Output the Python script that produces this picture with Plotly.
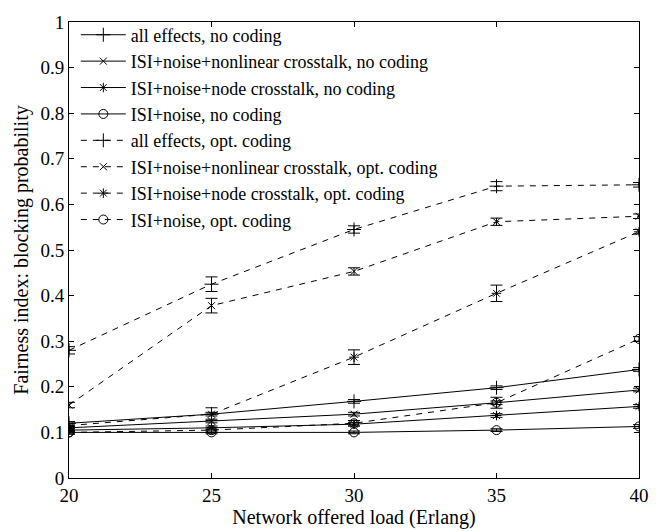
import plotly.graph_objects as go

load = [20, 25, 30, 35, 40]

names = [
    "all effects, no coding",
    "ISI+noise+nonlinear crosstalk, no coding",
    "ISI+noise+node crosstalk, no coding",
    "ISI+noise, no coding",
    "all effects, opt. coding",
    "ISI+noise+nonlinear crosstalk, opt. coding",
    "ISI+noise+node crosstalk, opt. coding",
    "ISI+noise, opt. coding",
]

all_no = [0.120, 0.140, 0.168, 0.198, 0.238]
nonlin_no = [0.110, 0.125, 0.140, 0.165, 0.193]
node_no = [0.105, 0.110, 0.118, 0.137, 0.157]
isi_no = [0.100, 0.100, 0.100, 0.105, 0.113]
all_opt = [0.280, 0.425, 0.545, 0.640, 0.643]
nonlin_opt = [0.160, 0.378, 0.453, 0.562, 0.574]
node_opt = [0.115, 0.140, 0.265, 0.405, 0.540]
isi_opt = [0.100, 0.105, 0.120, 0.165, 0.305]

err_all_no = [0.004, 0.004, 0.004, 0.004, 0.004]
err_nonlin_no = [0.003, 0.004, 0.004, 0.004, 0.004]
err_node_no = [0.003, 0.004, 0.004, 0.004, 0.004]
err_isi_no = [0.003, 0.003, 0.003, 0.003, 0.004]
err_all_opt = [0.008, 0.016, 0.008, 0.010, 0.005]
err_nonlin_opt = [0.006, 0.016, 0.008, 0.008, 0.005]
err_node_opt = [0.005, 0.014, 0.016, 0.018, 0.005]
err_isi_opt = [0.004, 0.005, 0.006, 0.012, 0.005]

series = [all_no, nonlin_no, node_no, isi_no, all_opt, nonlin_opt, node_opt, isi_opt]
errors = [err_all_no, err_nonlin_no, err_node_no, err_isi_no,
          err_all_opt, err_nonlin_opt, err_node_opt, err_isi_opt]
symbols = ["cross-thin-open", "x-thin-open", "asterisk-open", "circle-open"] * 2
dashes = ["solid"] * 4 + ["6px,6px"] * 4
sizes = [10, 7, 8, 9] * 2

fig = go.Figure()
for name, y, e, sym, d, s in zip(names, series, errors, symbols, dashes, sizes):
    fig.add_trace(go.Scatter(
        x=load, y=y, name=name, mode="lines+markers",
        line=dict(color="black", width=1, dash=d),
        marker=dict(symbol=sym, size=s, color="black", line=dict(color="black", width=1)),
        error_y=dict(type="data", array=e, visible=True, color="black", thickness=1, width=6),
    ))

font_family = "Liberation Serif, Times New Roman, serif"
fig.update_layout(
    width=672, height=532,
    margin=dict(l=69, r=33, t=14, b=52),
    paper_bgcolor="white", plot_bgcolor="white",
    font=dict(family=font_family, size=18, color="black"),
    showlegend=True,
    legend=dict(x=0.012, y=1.012, xanchor="left", yanchor="top",
                bgcolor="rgba(255,255,255,0)", borderwidth=0,
                font=dict(family=font_family, size=18, color="black"),
                tracegroupgap=0, itemwidth=45),
)
fig.update_xaxes(
    range=[20, 40], tickvals=[20, 25, 30, 35, 40],
    showline=True, linecolor="black", linewidth=1, mirror="ticks",
    ticks="inside", ticklen=5, tickcolor="black",
    showgrid=False, zeroline=False,
    tickfont=dict(family=font_family, size=19),
    title=dict(text="Network offered load (Erlang)", font=dict(family=font_family, size=20), standoff=0),
)
fig.update_yaxes(
    range=[0, 1], tickvals=[0, 0.1, 0.2, 0.3, 0.4, 0.5, 0.6, 0.7, 0.8, 0.9, 1],
    ticktext=["0", "0.1", "0.2", "0.3", "0.4", "0.5", "0.6", "0.7", "0.8", "0.9", "1"],
    showline=True, linecolor="black", linewidth=1, mirror="ticks",
    ticks="inside", ticklen=5, tickcolor="black",
    showgrid=False, zeroline=False,
    tickfont=dict(family=font_family, size=19),
    title=dict(text="Fairness index: blocking probability", font=dict(family=font_family, size=20), standoff=6),
)

fig.write_html("out.html")
